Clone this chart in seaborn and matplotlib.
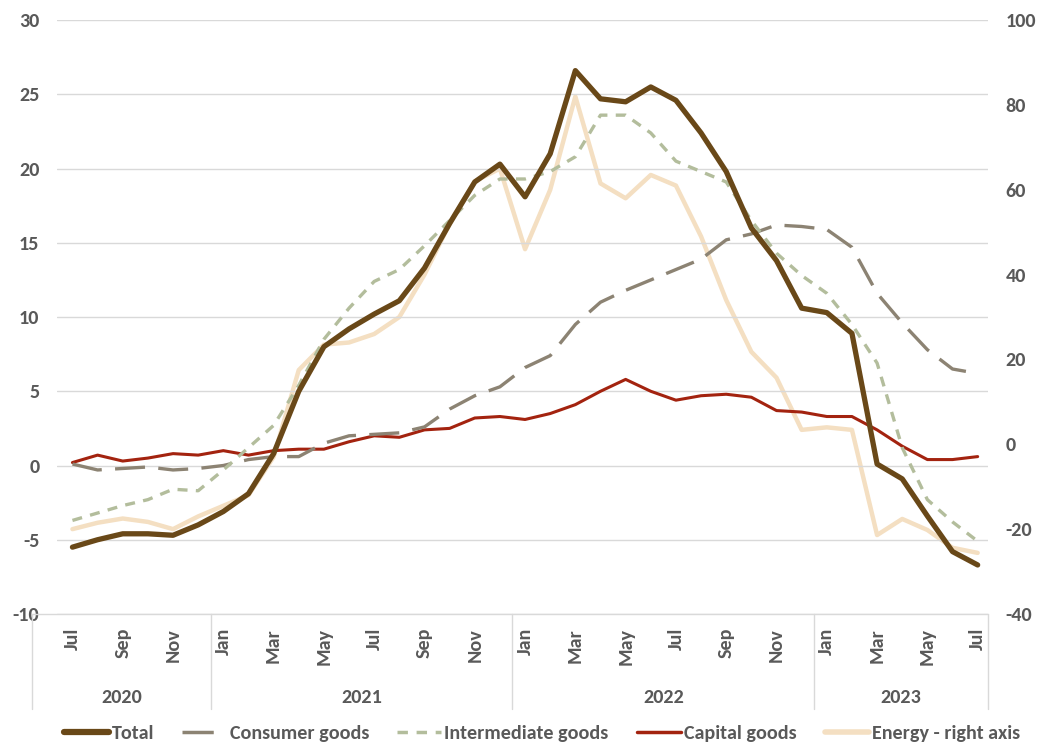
import numpy as np
import pandas as pd
import seaborn as sns
import matplotlib.pyplot as plt
from matplotlib import font_manager
from matplotlib.lines import Line2D
import matplotlib.transforms as mtransforms

# Monthly data, Jul 2020 - Jul 2023 (% y/y)
months = ['Jul', 'Aug', 'Sep', 'Oct', 'Nov', 'Dec',
          'Jan', 'Feb', 'Mar', 'Apr', 'May', 'Jun', 'Jul', 'Aug', 'Sep', 'Oct', 'Nov', 'Dec',
          'Jan', 'Feb', 'Mar', 'Apr', 'May', 'Jun', 'Jul', 'Aug', 'Sep', 'Oct', 'Nov', 'Dec',
          'Jan', 'Feb', 'Mar', 'Apr', 'May', 'Jun', 'Jul']
years = ['2020', '2021', '2022', '2023']
year_counts = [6, 12, 12, 7]

total = [-5.5, -5.0, -4.6, -4.6, -4.7, -4.0, -3.1, -1.9, 0.8, 5.0, 8.0, 9.2, 10.2, 11.1,
         13.3, 16.3, 19.1, 20.3, 18.1, 21.0, 26.6, 24.7, 24.5, 25.5, 24.6, 22.4, 19.8,
         16.0, 13.8, 10.6, 10.3, 8.9, 0.1, -0.9, -3.4, -5.8, -6.7]
consumer = [0.1, -0.3, -0.2, -0.1, -0.3, -0.2, 0.0, 0.4, 0.6, 0.6, 1.5, 2.0, 2.1, 2.2,
            2.6, 3.8, 4.7, 5.3, 6.6, 7.4, 9.5, 11.0, 11.8, 12.5, 13.2, 13.9, 15.2, 15.6,
            16.2, 16.1, 15.9, 14.7, 11.6, 9.6, 7.8, 6.5, 6.2]
intermediate = [-3.7, -3.2, -2.7, -2.3, -1.6, -1.7, -0.3, 1.2, 2.7, 5.4, 8.5, 10.6, 12.4,
                13.2, 14.8, 16.5, 18.2, 19.3, 19.3, 19.8, 20.8, 23.6, 23.6, 22.4, 20.5,
                19.8, 19.1, 16.5, 14.3, 12.8, 11.6, 9.5, 6.9, 1.2, -2.3, -3.8, -5.1]
capital = [0.2, 0.7, 0.3, 0.5, 0.8, 0.7, 1.0, 0.7, 1.0, 1.1, 1.1, 1.6, 2.0, 1.9, 2.4, 2.5,
           3.2, 3.3, 3.1, 3.5, 4.1, 5.0, 5.8, 5.0, 4.4, 4.7, 4.8, 4.6, 3.7, 3.6, 3.3, 3.3,
           2.4, 1.3, 0.4, 0.4, 0.6]
energy = [-20, -18.5, -17.5, -18.3, -20, -17, -14.5, -12, -3, 17.5, 23.5, 24, 26, 30, 40,
          52, 62, 65, 46, 60, 82, 61.5, 58, 63.5, 61, 49, 34, 21.8, 15.7, 3.4, 4, 3.4,
          -21.4, -17.6, -20.2, -24.4, -25.6]

df = pd.DataFrame({'x': np.arange(len(months)), 'Total': total, 'Consumer goods': consumer,
                   'Intermediate goods': intermediate, 'Capital goods': capital,
                   'Energy - right axis': energy})

sns.set_style('white')
plt.rcParams['axes.unicode_minus'] = False
txt = '#595959'
fs = 14.5

# Calibri-like bold font, picked by file so the bold face is really used
bold_path = None
for f in font_manager.fontManager.ttflist:
    if f.name == 'Carlito' and f.weight in (700, 'bold') and 'italic' not in f.style:
        bold_path = f.fname
if bold_path:
    fp = font_manager.FontProperties(fname=bold_path, size=fs)
else:
    fp = font_manager.FontProperties(family='DejaVu Sans', weight='bold', size=fs - 2)

fig = plt.figure(figsize=(10.43, 7.46), dpi=100)
ax = fig.add_axes([0.055, 0.177, 0.892, 0.796])
ax2 = ax.twinx()

c_total = '#694818'
c_cons = '#8c8373'
c_inter = '#b3bd9c'
c_cap = '#a3230f'
c_energy = '#f4dfc2'

sns.lineplot(data=df, x='x', y='Energy - right axis', ax=ax2, color=c_energy, lw=3.2)
sns.lineplot(data=df, x='x', y='Capital goods', ax=ax, color=c_cap, lw=2.2)
sns.lineplot(data=df, x='x', y='Consumer goods', ax=ax, color=c_cons, lw=2.4)
sns.lineplot(data=df, x='x', y='Intermediate goods', ax=ax, color=c_inter, lw=2.4)
sns.lineplot(data=df, x='x', y='Total', ax=ax, color=c_total, lw=3.8)
ax.lines[1].set_dashes([9, 4])
ax.lines[2].set_dashes([3, 2.5])

# twin axis goes behind the main one
ax.set_zorder(ax2.get_zorder() + 1)
ax.patch.set_visible(False)

ax.set_xlim(-0.6, 36.4)
ax.set_ylim(-10, 30)
ax2.set_ylim(-40, 100)
ax.set_yticks(range(-10, 31, 5))
ax2.set_yticks(range(-40, 101, 20))
ax.grid(axis='y', color='#d9d9d9', lw=1)
for a in (ax, ax2):
    for s in a.spines.values():
        s.set_visible(False)
    a.set_xlabel('')
    a.set_ylabel('')
    a.tick_params(axis='y', length=0, labelcolor=txt)
    for lab in a.get_yticklabels():
        lab.set_fontproperties(fp)
ax.tick_params(axis='y', pad=13)
ax2.tick_params(axis='y', pad=13)

ticks = list(range(0, len(months), 2))
ax.set_xticks(ticks)
ax.set_xticklabels([months[i] for i in ticks], rotation=90, color=txt, fontproperties=fp)
ax.tick_params(axis='x', length=0, pad=10)

# year groups under the month labels
trans = mtransforms.blended_transform_factory(ax.transData, ax.transAxes)
bounds = np.concatenate([[0], np.cumsum(year_counts)]) - 0.5
bounds[0] = -1.6
bounds[-1] = 36.4
for b in bounds:
    ax.plot([b, b], [0, -0.16], transform=trans, color='#d9d9d9', lw=1, clip_on=False)
ax.plot([bounds[0], bounds[-1]], [0, 0], transform=trans, color='#d9d9d9', lw=1, clip_on=False)
for i, y in enumerate(years):
    ax.text((bounds[i] + bounds[i + 1]) / 2, -0.14, y, transform=trans, ha='center',
            va='center', color=txt, fontproperties=fp)

handles = [Line2D([], [], color=c_total, lw=4.5),
           Line2D([], [], color=c_cons, lw=2.5, dashes=[9, 4]),
           Line2D([], [], color=c_inter, lw=2.5, dashes=[3, 2.5]),
           Line2D([], [], color=c_cap, lw=2.5),
           Line2D([], [], color=c_energy, lw=4)]
labels = ['Total', 'Consumer goods', 'Intermediate goods', 'Capital goods', 'Energy - right axis']
fig.legend(handles, labels, loc='center', bbox_to_anchor=(0.52, 0.017), ncol=5, frameon=False,
           prop=fp, labelcolor=txt, handlelength=2.2, handletextpad=0.15, columnspacing=1.4)

fig.savefig('out.png', dpi=100)
